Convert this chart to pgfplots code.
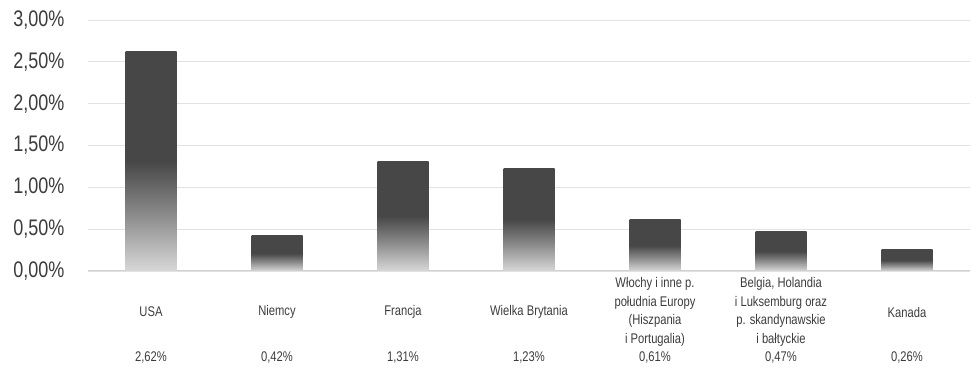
\documentclass[border=0pt]{standalone}
\usepackage{pgfplots}
\pgfplotsset{compat=1.18}
\usepackage{fontspec}
\setmainfont{Liberation Sans}[FakeStretch=0.80]

\definecolor{bardark}{HTML}{474747}
\definecolor{barmid}{HTML}{8A8A8A}
\definecolor{barlight}{HTML}{D8D8D8}
\definecolor{gridgray}{HTML}{E2E2E2}
\definecolor{axisgray}{HTML}{D0D0D0}
\definecolor{txt}{HTML}{3C3C3C}

% bottom of bar = 25bp, top of bar = 75bp
\pgfdeclareverticalshading{barfade}{100bp}{color(0bp)=(barlight); color(25bp)=(barlight); color(38bp)=(barmid); color(50bp)=(bardark); color(100bp)=(bardark)}

% each bar is its own plot, so that the shading fits that bar only
\pgfplotsset{onebar/.style={ybar, bar width=51pt, bar shift=0pt, draw=none, shading=barfade}}

\begin{document}
\begin{tikzpicture}
\begin{axis}[
    scale only axis,
    width=882pt, height=251pt,
    xmin=-0.5, xmax=6.5,
    ymin=0, ymax=3,
    ytick={0,0.5,...,3},
    ymajorgrids=true,
    grid style={gridgray, line width=0.9pt},
    axis lines*=left,
    y axis line style={draw=none},
    x axis line style={axisgray, line width=1pt},
    major tick length=0pt,
    /pgf/number format/assume math mode=true,
    yticklabel={\pgfmathprintnumber{\tick}\%},
    yticklabel style={
        /pgf/number format/.cd, fixed, fixed zerofill, precision=2, use comma,
        /tikz/.cd, font=\fontsize{22.5}{25}\selectfont, text=txt, xshift=-20pt},
    xtick={0,...,6},
    xticklabels={USA, Niemcy, Francja, Wielka Brytania,
        {Włochy i inne p.\\południa Europy\\(Hiszpania\\i Portugalia)},
        {Belgia, Holandia\\i Luksemburg oraz\\p. skandynawskie\\i bałtyckie},
        Kanada},
    xticklabel style={align=center, anchor=center, yshift=-41pt,
        font=\fontsize{14}{18.7}\selectfont, text=txt},
    extra x ticks={0,...,6},
    extra x tick labels={{2,62\%}, {0,42\%}, {1,31\%}, {1,23\%}, {0,61\%}, {0,47\%}, {0,26\%}},
    extra x tick style={tick label style={yshift=-46pt}},
    clip=false,
]
\addplot[onebar] coordinates {(0,2.62)};
\addplot[onebar] coordinates {(1,0.42)};
\addplot[onebar] coordinates {(2,1.31)};
\addplot[onebar] coordinates {(3,1.23)};
\addplot[onebar] coordinates {(4,0.61)};
\addplot[onebar] coordinates {(5,0.47)};
\addplot[onebar] coordinates {(6,0.26)};
\end{axis}
\pgfresetboundingbox
\path[use as bounding box] ([xshift=-88pt,yshift=-100pt]current axis.south west)
    rectangle ([xshift=2pt,yshift=20pt]current axis.north east);
\end{tikzpicture}
\end{document}
